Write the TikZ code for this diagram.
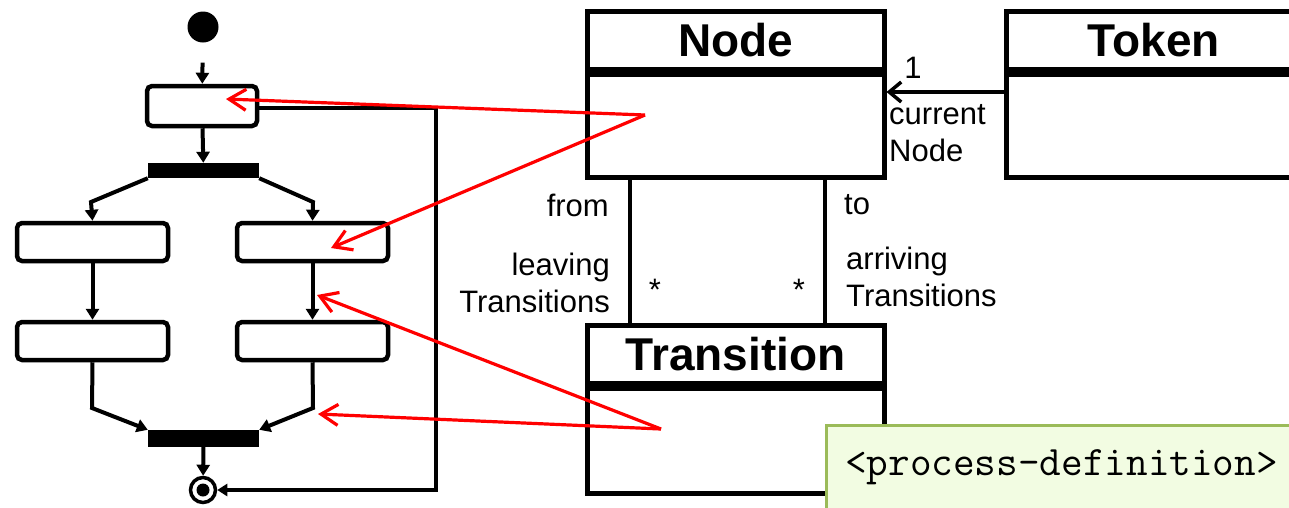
\documentclass[tikz,border=0pt]{standalone}
\usepackage{fontspec}
\setmainfont{Liberation Sans}
\usetikzlibrary{arrows.meta}
\definecolor{notefill}{HTML}{F2FCE2}
\definecolor{noteedge}{HTML}{9BBB59}
\tikzset{
  actbox/.style={draw, line width=4.5pt, rounded corners=5pt, inner sep=0pt},
  bar/.style={fill=black, draw=none, inner sep=0pt},
  act/.style={line width=4pt, -{Triangle[length=11pt,width=13pt]}},
  loopline/.style={line width=3.5pt, -{Triangle[length=10pt,width=12pt]}},
  redarr/.style={red, line width=3.2pt, -{Straight Barb[length=17pt,width=21pt,line width=3.2pt]}},
  clstitle/.style={draw, line width=5pt, inner sep=0pt, minimum height=58pt,
    font=\fontsize{46}{50}\selectfont\bfseries},
  clsbody/.style={draw, line width=5pt, inner sep=0pt},
  assoc/.style={line width=3.5pt},
  lbl/.style={inner sep=0pt, font=\fontsize{31}{37}\selectfont},
}
\begin{document}
\begin{tikzpicture}[x=1pt,y=-1pt]
\useasboundingbox (0,0) rectangle (1289,507);
\clip (0,0) rectangle (1289,507);
% ---------- activity diagram ----------
\node[circle, fill=black, inner sep=0pt, minimum size=31pt] (init) at (203,27) {};
\node[actbox, minimum width=110pt, minimum height=40pt] (a1) at (202,106) {};
\node[bar, minimum width=111pt, minimum height=15pt] (fork) at (203.5,170.5) {};
\node[actbox, minimum width=151pt, minimum height=38pt] (a2l) at (92.5,242) {};
\node[actbox, minimum width=151pt, minimum height=38pt] (a2r) at (312.5,242) {};
\node[actbox, minimum width=151pt, minimum height=38pt] (a3l) at (92.5,341) {};
\node[actbox, minimum width=151pt, minimum height=38pt] (a3r) at (312.5,341) {};
\node[bar, minimum width=111pt, minimum height=17pt] (join) at (203.5,438.5) {};
\node[circle, draw, line width=3.5pt, inner sep=0pt, minimum size=25pt] (final) at (203,490) {};
\node[circle, fill=black, inner sep=0pt, minimum size=13pt] (finaldot) at (203,490) {};

\coordinate (fl) at (91,202);
\coordinate (fr) at (313,202);
\coordinate (jl) at (92,408);
\coordinate (jr) at (313,408);
\coordinate (lp1) at (436,108);
\coordinate (lp2) at (436,490);

\draw[act, shorten <=20pt] (init) -- (a1);
\draw[act] (a1) -- (fork);
\draw[act] (fork.south west) -- (fl) -- (a2l.north);
\draw[act] (fork.south east) -- (fr) -- (a2r.north);
\draw[act] (a2l) -- (a3l);
\draw[act] (a2r) -- (a3r);
\draw[act] (a3l.south) -- (jl) -- (join.north west);
\draw[act] (a3r.south) -- (jr) -- (join.north east);
\draw[act] (join) -- (final);
\draw[loopline] (a1.east |- lp1) -- (lp1) -- (lp2) -- (final.east);

% ---------- class diagram ----------
\node[clstitle, minimum width=297pt] (nodeT) at (735.5,40) {Node};
\node[clsbody, minimum width=297pt, minimum height=103pt, anchor=north] (nodeB) at (nodeT.south) {};
\node[clstitle, minimum width=296pt] (tokT) at (1154,40) {Token};
\node[clsbody, minimum width=296pt, minimum height=103pt, anchor=north] (tokB) at (tokT.south) {};
\node[clstitle, minimum width=297pt] (trT) at (735.5,354) {Transition};
\node[clsbody, minimum width=297pt, minimum height=105pt, anchor=north] (trB) at (trT.south) {};

\coordinate (fromx) at (630,0);
\coordinate (tox) at (825,0);
\draw[assoc] (nodeB.south -| fromx) -- (trT.north -| fromx);
\draw[assoc] (nodeB.south -| tox) -- (trT.north -| tox);
\coordinate (tokin) at (0,92);
\draw[assoc, -{Straight Barb[length=12pt,width=20pt,line width=3.5pt]}] (tokB.west |- tokin) -- (nodeB.east |- tokin);

\node[lbl] (one) at (913,68) {1};
\node[lbl, anchor=west, align=left] (curr) at (889,133) {current\\Node};
\node[lbl, anchor=east] (from) at (609,205) {from};
\node[lbl, anchor=east, align=right] (leav) at (610,283) {leaving\\Transitions};
\node[lbl] (st1) at (655,290) {*};
\node[lbl] (st2) at (799,290) {*};
\node[lbl, anchor=west] (to) at (844,205) {to};
\node[lbl, anchor=west, align=left] (arr) at (846,277) {arriving\\Transitions};

% ---------- red pointers ----------
\coordinate (pN) at (645,115);
\coordinate (pT) at (661,429);
\coordinate (r1) at (226,99);
\coordinate (r2) at (331,248);
\coordinate (r3) at (317,295);
\coordinate (r4) at (318,414);
\draw[redarr] (pN) -- (r1);
\draw[redarr] (pN) -- (r2);
\draw[redarr] (pT) -- (r3);
\draw[redarr] (pT) -- (r4);

% ---------- note ----------
\node[draw=noteedge, fill=notefill, line width=2.5pt, minimum width=480pt, minimum height=100pt, anchor=north west, inner sep=0pt] (note) at (825,424) {};
\node[inner sep=0pt, anchor=base west, font=\ttfamily\fontsize{42}{46}\selectfont] (notetext) at (845,475) {<process-definition>};
\end{tikzpicture}
\end{document}
